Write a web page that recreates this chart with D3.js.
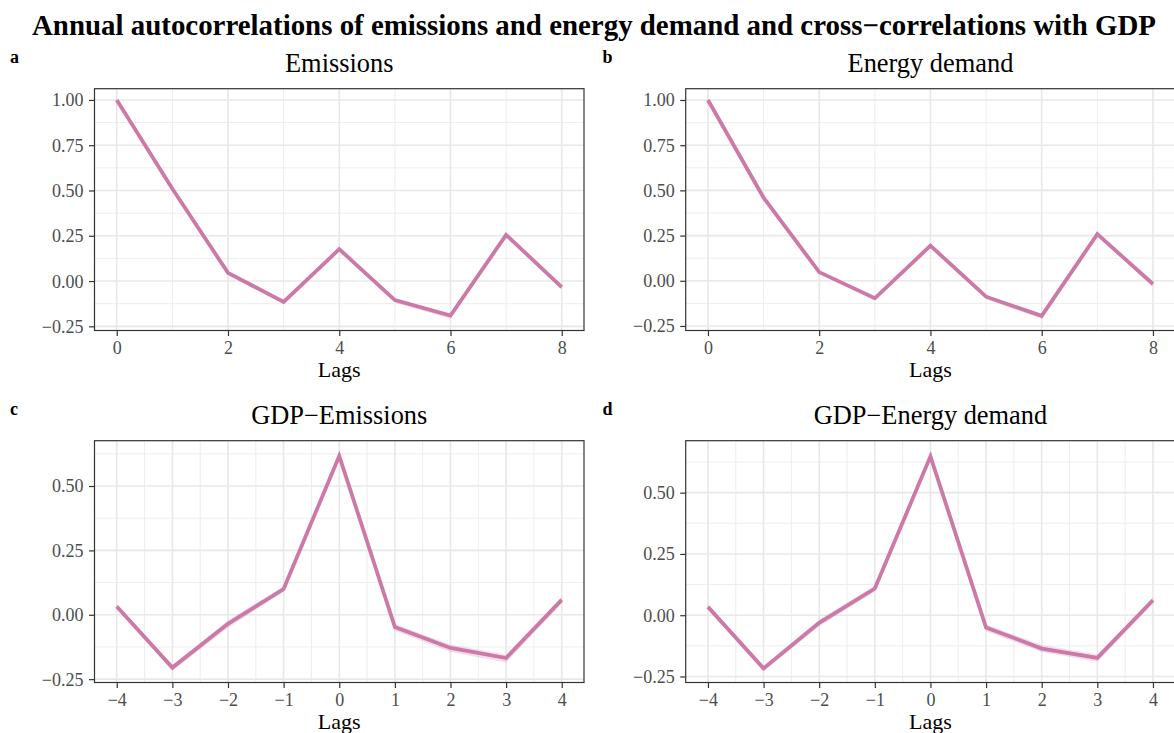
<!DOCTYPE html>
<html>
<head>
<meta charset="utf-8">
<script src="https://cdn.jsdelivr.net/npm/d3@7"></script>
<style>
	body { margin: 0; background: #fff; }
	svg { display: block; font-family: "Liberation Serif", "DejaVu Serif", serif; }
	svg text { font-family: "Liberation Serif", "DejaVu Serif", serif; }
</style>
</head>
<body>
<svg id="chart"></svg>
<script>
// data
let lagsAuto = [0, 1, 2, 3, 4, 5, 6, 7, 8];
let lagsCross = [-4, -3, -2, -1, 0, 1, 2, 3, 4];

let emisAcf = [1.00, 0.51, 0.045, -0.115, 0.176, -0.105, -0.19, 0.255, -0.033];
let emisLo = [0.995, 0.50, 0.032, -0.125, 0.166, -0.12, -0.208, 0.245, -0.045];
let emisHi = [1.00, 0.516, 0.052, -0.106, 0.184, -0.095, -0.18, 0.263, -0.024];

let energyAcf = [1.00, 0.46, 0.048, -0.097, 0.194, -0.088, -0.194, 0.258, -0.018];
let energyLo = [0.995, 0.45, 0.036, -0.106, 0.185, -0.102, -0.21, 0.25, -0.03];
let energyHi = [1.00, 0.468, 0.055, -0.09, 0.201, -0.08, -0.185, 0.265, -0.01];

let gdpEmis = [0.032, -0.205, -0.035, 0.10, 0.617, -0.048, -0.129, -0.168, 0.058];
let gdpEmisLo = [0.022, -0.218, -0.05, 0.088, 0.605, -0.062, -0.145, -0.185, 0.045];
let gdpEmisHi = [0.042, -0.196, -0.022, 0.11, 0.632, -0.036, -0.115, -0.155, 0.07];

let gdpEnergy = [0.034, -0.217, -0.031, 0.109, 0.648, -0.05, -0.136, -0.174, 0.061];
let gdpEnergyLo = [0.024, -0.229, -0.045, 0.097, 0.635, -0.064, -0.15, -0.19, 0.048];
let gdpEnergyHi = [0.044, -0.207, -0.018, 0.12, 0.662, -0.038, -0.122, -0.16, 0.073];

let yTicksAuto = [-0.25, 0, 0.25, 0.5, 0.75, 1];
let yTicksCross = [-0.25, 0, 0.25, 0.5];
let xTicksAuto = [0, 2, 4, 6, 8];
let xTicksCross = [-4, -3, -2, -1, 0, 1, 2, 3, 4];

let panelTitles = ["Emissions", "Energy demand", "GDP\u2212Emissions", "GDP\u2212Energy demand"];
let panelTags = ["a", "b", "c", "d"];

let mainTitle = "Annual autocorrelations of emissions and energy demand and cross\u2212correlations with GDP";
let lineColor = "#CC79A7";
let serif = "'Liberation Serif', 'DejaVu Serif', serif";

let svgWidth = 1174, svgHeight = 733;
let svg = d3.select("#chart")
	.attr("width", svgWidth)
	.attr("height", svgHeight);

svg.append("text")
	.attr("x", 594)
	.attr("y", 35)
	.attr("text-anchor", "middle")
	.attr("font-size", 28.9)
	.attr("font-weight", "bold")
	.attr("fill", "#000")
	.text(mainTitle);

let panels = [
	{ lags: lagsAuto, val: emisAcf, lo: emisLo, hi: emisHi, left: 94.5, top: 88.7, yDom: [-0.273, 1.062], xDom: [-0.4, 8.4], yTicks: yTicksAuto, xTicks: xTicksAuto },
	{ lags: lagsAuto, val: energyAcf, lo: energyLo, hi: energyHi, left: 685.7, top: 88.7, yDom: [-0.275, 1.0625], xDom: [-0.4, 8.4], yTicks: yTicksAuto, xTicks: xTicksAuto },
	{ lags: lagsCross, val: gdpEmis, lo: gdpEmisLo, hi: gdpEmisHi, left: 94.5, top: 440.7, yDom: [-0.263, 0.676], xDom: [-4.4, 4.4], yTicks: yTicksCross, xTicks: xTicksCross },
	{ lags: lagsCross, val: gdpEnergy, lo: gdpEnergyLo, hi: gdpEnergyHi, left: 685.7, top: 440.7, yDom: [-0.2745, 0.712], xDom: [-4.4, 4.4], yTicks: yTicksCross, xTicks: xTicksCross },
];

let plotW = 489.5, plotH = 241.8;

panels.forEach(function (p, i)
{
	let g = svg.append("g")
		.attr("transform", "translate(" + p.left + "," + p.top + ")");

	let x = d3.scaleLinear().domain(p.xDom).range([0, plotW]);
	let y = d3.scaleLinear().domain(p.yDom).range([plotH, 0]);

	// minor grid: halfway between major ticks
	let xMinor = [];
	for (let k = 0; k < p.xTicks.length - 1; k++)
		xMinor.push((p.xTicks[k] + p.xTicks[k + 1]) / 2);
	let yMinor = [];
	let yStep = p.yTicks[1] - p.yTicks[0];
	for (let k = 0; k < p.yTicks.length; k++)
		yMinor.push(p.yTicks[k] + yStep / 2);
	yMinor = yMinor.filter(v => v >= p.yDom[0] && v <= p.yDom[1]);

	g.append("rect")
		.attr("width", plotW)
		.attr("height", plotH)
		.attr("fill", "#fff");

	let grid = g.append("g");
	grid.selectAll(".ymin").data(yMinor).enter().append("line")
		.attr("x1", 0).attr("x2", plotW)
		.attr("y1", d => y(d)).attr("y2", d => y(d))
		.attr("stroke", "#EBEBEB").attr("stroke-width", 0.9);
	grid.selectAll(".xmin").data(xMinor).enter().append("line")
		.attr("y1", 0).attr("y2", plotH)
		.attr("x1", d => x(d)).attr("x2", d => x(d))
		.attr("stroke", "#EBEBEB").attr("stroke-width", 0.9);
	grid.selectAll(".ymaj").data(p.yTicks).enter().append("line")
		.attr("x1", 0).attr("x2", plotW)
		.attr("y1", d => y(d)).attr("y2", d => y(d))
		.attr("stroke", "#E8E8E8").attr("stroke-width", 1.6);
	grid.selectAll(".xmaj").data(p.xTicks).enter().append("line")
		.attr("y1", 0).attr("y2", plotH)
		.attr("x1", d => x(d)).attr("x2", d => x(d))
		.attr("stroke", "#E8E8E8").attr("stroke-width", 1.6);

	let rows = p.lags.map((l, k) => ({ lag: l, v: p.val[k], lo: p.lo[k], hi: p.hi[k] }));

	g.append("path")
		.datum(rows)
		.attr("fill", lineColor)
		.attr("fill-opacity", 0.25)
		.attr("d", d3.area().x(d => x(d.lag)).y0(d => y(d.lo)).y1(d => y(d.hi)));

	g.append("path")
		.datum(rows)
		.attr("fill", "none")
		.attr("stroke", lineColor)
		.attr("stroke-width", 3.8)
		.attr("stroke-linejoin", "miter")
		.attr("d", d3.line().x(d => x(d.lag)).y(d => y(d.v)));

	// panel border
	g.append("rect")
		.attr("width", plotW)
		.attr("height", plotH)
		.attr("fill", "none")
		.attr("stroke", "#333333")
		.attr("stroke-width", 1.2);

	// axes
	let yAxis = g.append("g")
		.call(d3.axisLeft(y).tickValues(p.yTicks).tickFormat(d3.format(".2f")).tickSize(5.5).tickPadding(5.5));
	let xAxis = g.append("g")
		.attr("transform", "translate(0," + plotH + ")")
		.call(d3.axisBottom(x).tickValues(p.xTicks).tickFormat(d3.format("d")).tickSize(5.5).tickPadding(5));
	[yAxis, xAxis].forEach(function (a)
	{
		a.attr("font-family", null).attr("font-size", null);
		a.select(".domain").remove();
		a.selectAll(".tick line").attr("stroke", "#333333").attr("stroke-width", 1.2);
		a.selectAll(".tick text")
			.attr("fill", "#4D4D4D")
			.style("font-family", serif)
			.style("font-size", "18px");
	});
	yAxis.selectAll(".tick text").attr("dy", "0.33em");
	xAxis.selectAll(".tick text").attr("dy", "0.71em");

	g.append("text")
		.attr("x", plotW / 2)
		.attr("y", plotH + 47)
		.attr("text-anchor", "middle")
		.attr("font-size", 22)
		.attr("fill", "#000")
		.text("Lags");

	g.append("text")
		.attr("x", plotW / 2)
		.attr("y", -17.2)
		.attr("text-anchor", "middle")
		.attr("font-size", 26.4)
		.attr("fill", "#000")
		.text(panelTitles[i]);

	svg.append("text")
		.attr("x", i % 2 == 0 ? 10 : 602.5)
		.attr("y", i < 2 ? 63.3 : 415)
		.attr("font-size", 18)
		.attr("font-weight", "bold")
		.attr("fill", "#000")
		.text(panelTags[i]);
});
</script>
</body>
</html>
